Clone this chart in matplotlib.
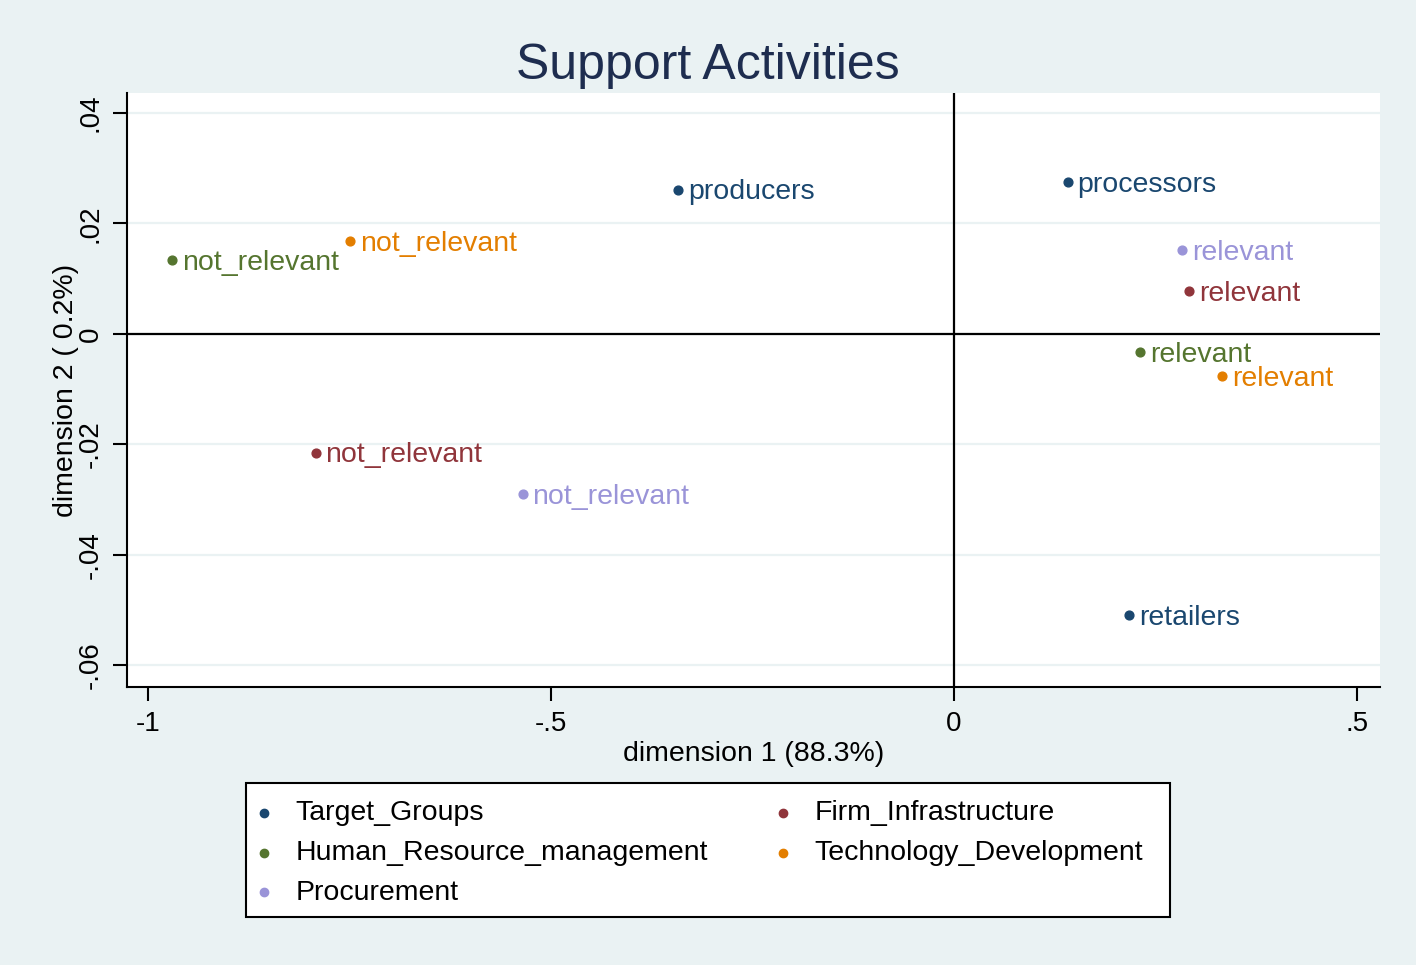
import matplotlib
matplotlib.use('Agg')
import matplotlib.pyplot as plt
from matplotlib.patches import Rectangle

plt.rcParams['font.family'] = ['Liberation Sans', 'DejaVu Sans']

# coordinates
groups = ['Target_Groups', 'Human_Resource_management', 'Procurement',
          'Firm_Infrastructure', 'Technology_Development']
colors = ['#1a476f', '#55752f', '#9a94d8', '#90353b', '#e37e00']

tg_labels = ['producers', 'processors', 'retailers']
tg_x = [-0.342, 0.141, 0.217]
tg_y = [0.0261, 0.0275, -0.0509]

hr_labels = ['not_relevant', 'relevant']
hr_x = [-0.970, 0.231]
hr_y = [0.0134, -0.0033]

pr_labels = ['not_relevant', 'relevant']
pr_x = [-0.535, 0.283]
pr_y = [-0.0290, 0.0152]

fi_labels = ['not_relevant', 'relevant']
fi_x = [-0.792, 0.292]
fi_y = [-0.0215, 0.0078]

td_labels = ['not_relevant', 'relevant']
td_x = [-0.749, 0.333]
td_y = [0.0168, -0.0076]

series = [(tg_labels, tg_x, tg_y), (hr_labels, hr_x, hr_y), (pr_labels, pr_x, pr_y),
          (fi_labels, fi_x, fi_y), (td_labels, td_x, td_y)]

xticks = [-1, -0.5, 0, 0.5]
xticklabels = ['-1', '-.5', '0', '.5']
yticks = [0.04, 0.02, 0, -0.02, -0.04, -0.06]
yticklabels = ['.04', '.02', '0', '-.02', '-.04', '-.06']

bg = '#eaf2f3'
fig = plt.figure(figsize=(14.16, 9.65), dpi=100, facecolor=bg)
ax = fig.add_axes([0.0897, 0.2881, 0.8849, 0.6155])
ax.set_facecolor('white')

handles = []
for (labs, xs, ys), col, name in zip(series, colors, groups):
    h = ax.scatter(xs, ys, s=40, color=col, zorder=3, label=name)
    handles.append(h)
    for lab, x, y in zip(labs, xs, ys):
        ax.annotate(lab, (x, y), xytext=(7, -2), textcoords='offset points',
                    va='center', ha='left', fontsize=20.5, color=col, zorder=3)

ax.axhline(0, color='black', lw=1.6, zorder=2)
ax.axvline(0, color='black', lw=1.6, zorder=2)

ax.set_xlim(-1.026, 0.5285)
ax.set_ylim(-0.0639, 0.0436)
ax.set_xticks(xticks)
ax.set_xticklabels(xticklabels)
ax.set_yticks(yticks)
ax.set_yticklabels(yticklabels, rotation=90, va='center')
for t in yticks:
    ax.axhline(t, color=bg, lw=1.6, zorder=1)

ax.tick_params(axis='both', labelsize=20, length=10, width=1.5, direction='out', pad=7)
for side in ['top', 'right']:
    ax.spines[side].set_visible(False)
for side in ['left', 'bottom']:
    ax.spines[side].set_linewidth(1.5)

ax.set_xlabel('dimension 1 (88.3%)', fontsize=20.5, labelpad=3)
ax.set_ylabel('dimension 2 ( 0.2%)', fontsize=20.5, labelpad=-1)
fig.text(0.5, 0.932, 'Support Activities', fontsize=36, color='#1e2d4f',
         ha='center', va='center')

# legend frame drawn separately so the entries can sit where they should
fig.add_artist(Rectangle((0.1737, 0.0497), 0.6525, 0.1389, transform=fig.transFigure,
                         facecolor='white', edgecolor='black', lw=1.5, zorder=1))
leg = fig.legend(handles=handles, ncol=2, loc='center',
                 bbox_to_anchor=(250 / 1416, 0.0466, 893 / 1416, 0.1389), mode='expand',
                 fontsize=20.5, frameon=False, handletextpad=0.61, labelspacing=0.48,
                 borderpad=0, borderaxespad=0, markerscale=0.95, handlelength=1.0)
leg.set_zorder(2)

fig.savefig('out.png', dpi=100, facecolor=bg)
